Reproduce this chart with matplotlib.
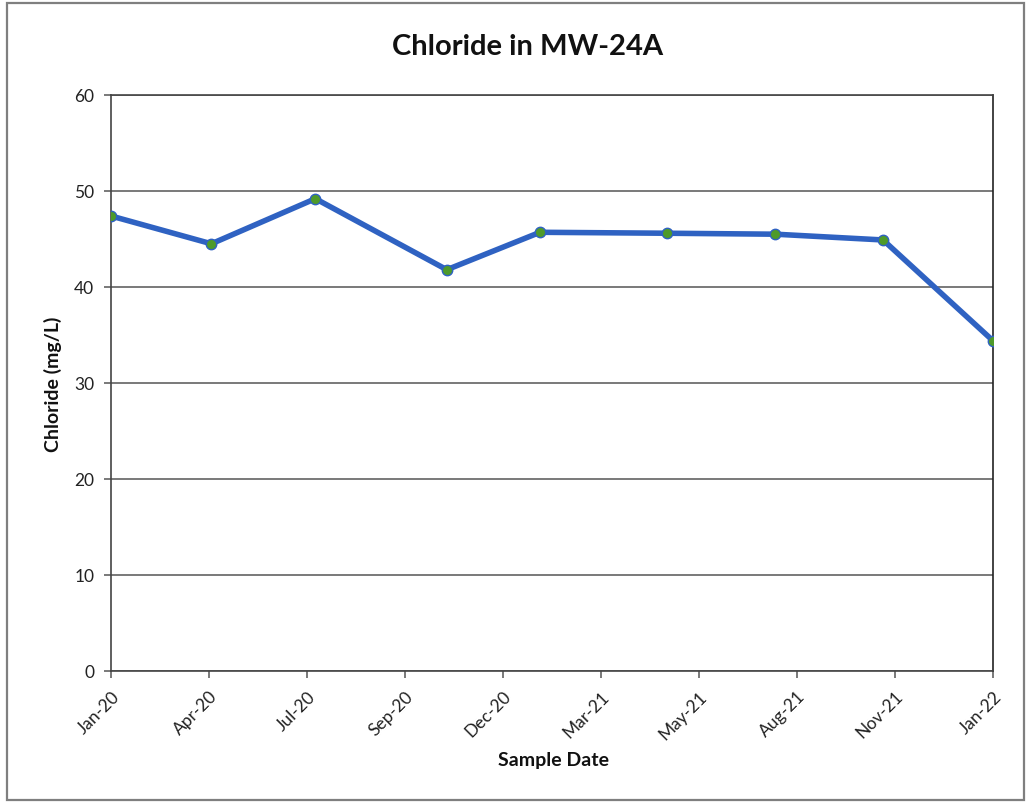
import datetime as dt
import matplotlib
matplotlib.use("Agg")
import matplotlib.pyplot as plt
import matplotlib.dates as mdates
from matplotlib.patches import Rectangle

# Sampling record for monitoring well MW-24A
sample_dates = [
    dt.date(2020, 1, 22), dt.date(2020, 4, 15), dt.date(2020, 7, 11),
    dt.date(2020, 10, 29), dt.date(2021, 1, 15), dt.date(2021, 5, 1),
    dt.date(2021, 7, 31), dt.date(2021, 10, 29), dt.date(2022, 1, 29),
]
chloride_mg_l = [47.4, 44.5, 49.2, 41.8, 45.7, 45.6, 45.5, 44.9, 34.4]

y_ticks = [0, 10, 20, 30, 40, 50, 60]
x_major_step_days = 82
n_x_ticks = 10

title = "Chloride in MW-24A"
x_label = "Sample Date"
y_label = "Chloride (mg/L)"

plt.rcParams["font.family"] = ["Lato", "DejaVu Sans"]

fig = plt.figure(figsize=(10.29, 8.04), dpi=100)
fig.patch.set_facecolor("white")

# chart-area frame
fig.patches.append(Rectangle((7 / 1029, 3 / 804), 1017 / 1029, 797 / 804,
                             transform=fig.transFigure, fill=False,
                             edgecolor="#7f7f7f", linewidth=1.6))

ax = fig.add_axes([111 / 1029, 1 - 672 / 804, 882 / 1029, 576 / 804])

ax.plot(sample_dates, chloride_mg_l, color="#2F62C2", linewidth=4.0,
        solid_joinstyle="round", zorder=3)
ax.plot(sample_dates, chloride_mg_l, linestyle="none", marker="o",
        markersize=7.5, markerfacecolor="#4E9A2A", markeredgecolor="#2F62C2",
        markeredgewidth=1.0, zorder=4)

start = sample_dates[0]
tick_dates = [start + dt.timedelta(days=x_major_step_days * i) for i in range(n_x_ticks)]
ax.set_xlim(mdates.date2num(start), mdates.date2num(tick_dates[-1]))
ax.set_xticks([mdates.date2num(d) for d in tick_dates])
ax.xaxis.set_major_formatter(mdates.DateFormatter("%b-%y"))
for lbl in ax.get_xticklabels():
    lbl.set_rotation(45)
    lbl.set_ha("right")
    lbl.set_rotation_mode("anchor")

ax.set_ylim(y_ticks[0], y_ticks[-1])
ax.set_yticks(y_ticks)
ax.yaxis.grid(True, color="#555555", linewidth=1.1)
ax.set_axisbelow(True)

for side in ["left", "bottom", "top", "right"]:
    ax.spines[side].set_color("#444444")
    ax.spines[side].set_linewidth(1.2)
ax.spines["right"].set_color("#222222")

ax.tick_params(axis="both", direction="out", length=5, width=1.1,
               color="#555555", labelsize=12.5, labelcolor="#222222")
ax.tick_params(axis="x", pad=7)
ax.tick_params(axis="y", pad=7)

fig.text(528 / 1029, 1 - 47 / 804, title, ha="center", va="center",
         fontsize=21, fontweight="bold", color="#111111")
fig.text(553 / 1029, 1 - 761 / 804, x_label, ha="center", va="center",
         fontsize=14, fontweight="bold", color="#111111")
fig.text(53 / 1029, 1 - 384 / 804, y_label, ha="center", va="center",
         rotation=90, fontsize=14, fontweight="bold", color="#111111")

fig.savefig("out.png", dpi=100, facecolor="white")
